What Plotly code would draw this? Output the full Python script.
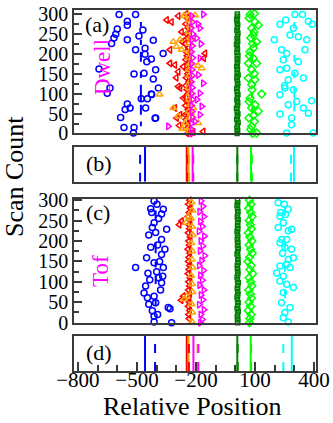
import plotly.graph_objects as go

# series order: blue, red, orange, magenta, dark green, light green, cyan
colors = ["#0000ff", "#ff0000", "#ffa500", "#ff00ff", "#008000", "#00ff00", "#00ffff"]
symbols = ["circle-open", "triangle-left-open", "triangle-up-open", "triangle-right-open",
           "square-open", "diamond-open", "circle-open"]

# ---- panel (a): Dwell ----
blue_a = [(-591, 299), (-507, 299), (-549, 282), (-549, 272), (-600, 262), (-608, 249), (-617, 240),
          (-629, 226), (-549, 235), (-507, 210), (-459, 214), (-459, 199), (-427, 187), (-405, 160),
          (-515, 149), (-417, 137), (-693, 162), (-637, 114), (-427, 99), (-447, 87), (-478, 87),
          (-549, 74), (-535, 64), (-456, 64), (-583, 40), (-566, 15), (-515, 15), (-518, 1),
          (-405, 39), (-651, 101), (-464, 151), (-417, 234), (-367, 201), (-450, 180), (-391, 114),
          (-425, 98), (-408, 38), (-470, 260), (-560, 60), (-490, 245)]
red_a = [(-349, 285), (-324, 280), (-290, 295), (-273, 255), (-332, 210), (-332, 176), (-307, 172),
         (-290, 155), (-264, 168), (-154, 201), (-160, 189), (-290, 118), (-281, 114), (-264, 89),
         (-307, 64), (-281, 47), (-298, 39), (-256, 47), (-239, 22), (-214, 4), (-163, 5),
         (-300, 140), (-270, 230), (-285, 20),
         (-250, 300), (-245, 290), (-252, 275), (-240, 265), (-248, 250), (-243, 240), (-255, 225),
         (-238, 215), (-250, 205), (-245, 195), (-252, 185), (-240, 175), (-247, 160), (-242, 150),
         (-250, 140), (-236, 130), (-252, 120), (-245, 110), (-240, 100), (-250, 90), (-244, 80),
         (-253, 70), (-240, 60), (-246, 50), (-250, 35), (-242, 25), (-248, 12), (-244, 0)]
orange_a = [(-281, 235), (-315, 230), (-273, 210), (-300, 218), (-171, 164), (-190, 170), (-315, 64),
            (-290, 43), (-256, 26), (-188, 26), (-214, 64), (-239, 297), (-205, 297), (-260, 295),
            (-385, 98), (-270, 12), (-225, 50),
            (-235, 285), (-232, 270), (-238, 255), (-230, 240), (-236, 225), (-233, 205), (-237, 190),
            (-231, 175), (-236, 160), (-234, 145), (-230, 130), (-238, 115), (-233, 100), (-236, 85),
            (-231, 72), (-237, 55), (-234, 40), (-232, 15), (-236, 5)]
magenta_a = [(-163, 299), (-180, 264), (-197, 239), (-180, 189), (-188, 147), (-163, 126), (-180, 101),
             (-171, 68), (-180, 47), (-205, 30), (-341, 18), (-175, 225), (-190, 275), (-195, 85),
             (-222, 295), (-218, 280), (-225, 265), (-216, 250), (-221, 235), (-219, 220), (-224, 205),
             (-217, 190), (-222, 175), (-220, 160), (-218, 145), (-225, 130), (-219, 115), (-221, 100),
             (-217, 85), (-223, 70), (-220, 55), (-218, 40), (-224, 25), (-221, 10), (-219, 0)]
dkgreen_a = [(9, 0), (12, 7), (8, 14), (11, 21), (14, 28), (7, 35), (10, 42), (13, 49), (9, 56), (6, 63),
             (11, 70), (12, 77), (8, 84), (10, 91), (13, 98), (9, 105), (7, 112), (11, 119), (12, 126),
             (10, 133), (8, 140), (14, 147), (9, 154), (11, 161), (7, 168), (10, 175), (12, 182),
             (9, 189), (13, 196), (8, 203), (11, 210), (10, 217), (6, 224), (12, 231), (9, 238),
             (11, 245), (13, 252), (8, 259), (10, 266), (12, 273), (9, 280), (7, 287), (11, 294), (10, 300)]
lgreen_a = [(75, 299), (97, 301), (100, 280), (83, 264), (91, 247), (108, 230), (75, 205), (91, 189),
            (66, 176), (108, 176), (83, 160), (66, 139), (100, 135), (83, 122), (134, 99), (75, 89),
            (100, 72), (83, 64), (117, 56), (69, 39), (97, 30), (83, 18), (108, 1), (91, 214), (117, 272),
            (70, 290), (95, 255), (78, 240), (88, 225), (72, 195), (96, 150), (85, 110), (70, 80),
            (92, 45), (78, 10), (88, 0)]
cyan_a = [(303, 299), (341, 299), (256, 285), (227, 274), (295, 264), (371, 282), (391, 274), (198, 235),
          (278, 247), (320, 243), (363, 235), (235, 210), (261, 201), (354, 210), (244, 185), (227, 160),
          (261, 164), (303, 151), (346, 139), (269, 135), (252, 114), (295, 110), (227, 97), (269, 72),
          (312, 80), (346, 64), (227, 49), (286, 39), (371, 51), (286, 22), (261, 1), (396, 1), (388, 82),
          (250, 120), (320, 180)]

# short vertical bars (x position, y spans)
blue_a_bar = (-480, [(268, 280), (222, 235), (180, 205), (139, 155), (80, 122), (47, 72), (18, 30)])
lgreen_a_bar = (85, [(245, 262), (176, 197), (89, 105), (50, 66)])
cyan_a_bar = (300, [(264, 280), (180, 197), (139, 155), (89, 114), (55, 80)])

# ---- panel (c): Tof ----
blue_c = [(-413, 298), (-430, 279), (-413, 245), (-422, 233), (-405, 221), (-451, 159), (-507, 135),
          (-444, 121), (-413, 147), (-456, 90), (-464, 73), (-447, 61), (-413, 65), (-405, 49),
          (-422, 29), (-413, 16), (-413, 2), (-366, 278), (-375, 266), (-349, 229), (-375, 204),
          (-358, 180), (-375, 167), (-366, 135), (-369, 114), (-375, 98), (-341, 37), (-324, 0),
          (-398, 290), (-390, 255), (-440, 215), (-395, 190), (-430, 185), (-385, 150), (-400, 125),
          (-390, 110), (-435, 105), (-380, 80), (-440, 45), (-395, 20), (-332, 34), (-425, 270)]
red_c = [(-232, 300), (-238, 290), (-228, 280), (-273, 249), (-235, 270), (-240, 260), (-230, 250),
         (-236, 240), (-285, 240), (-233, 230), (-239, 220), (-229, 210), (-237, 200), (-234, 190),
         (-241, 180), (-231, 170), (-236, 160), (-238, 150), (-232, 140), (-235, 130), (-240, 120),
         (-230, 110), (-237, 100), (-264, 65), (-275, 55), (-233, 90), (-238, 80), (-231, 70),
         (-236, 60), (-234, 50), (-239, 40), (-232, 30), (-237, 20), (-235, 10)]
orange_c = [(-239, 261), (-247, 65), (-260, 58), (-250, 245), (-222, 295), (-218, 275), (-225, 255),
            (-220, 235), (-216, 215), (-223, 195), (-219, 175), (-221, 155), (-217, 135), (-224, 115),
            (-220, 95), (-218, 75), (-222, 45), (-219, 25), (-221, 3)]
magenta_c = [(-175, 298), (-165, 285), (-182, 272), (-160, 260), (-178, 248), (-168, 236), (-185, 224),
             (-158, 212), (-176, 200), (-166, 188), (-180, 176), (-156, 164), (-172, 152), (-184, 140),
             (-162, 128), (-178, 116), (-168, 104), (-182, 92), (-160, 80), (-175, 68), (-165, 56),
             (-184, 44), (-160, 32), (-176, 20), (-168, 8), (-178, 0)]
dkgreen_c = [(11, 0), (13, 7), (10, 14), (12, 21), (15, 28), (9, 35), (12, 42), (14, 49), (11, 56), (9, 63),
             (13, 70), (12, 77), (10, 84), (12, 91), (15, 98), (11, 105), (9, 112), (13, 119), (12, 126),
             (11, 133), (10, 140), (14, 147), (12, 154), (13, 161), (9, 168), (12, 175), (14, 182),
             (11, 189), (13, 196), (10, 203), (12, 210), (11, 217), (9, 224), (13, 231), (11, 238),
             (12, 245), (14, 252), (10, 259), (12, 266), (13, 273), (11, 280), (9, 287), (12, 294), (11, 300)]
lgreen_c = [(72, 300), (80, 290), (68, 280), (78, 270), (85, 260), (70, 250), (76, 240), (82, 230),
            (66, 220), (74, 210), (84, 200), (70, 190), (78, 180), (86, 170), (72, 160), (64, 150),
            (80, 140), (74, 130), (88, 120), (70, 110), (78, 100), (84, 90), (68, 80), (76, 70),
            (82, 60), (70, 50), (78, 40), (66, 30), (80, 20), (74, 10), (72, 0)]
cyan_c = [(218, 294), (249, 290), (269, 278), (227, 261), (218, 233), (244, 245), (269, 225), (286, 229),
          (235, 204), (261, 204), (227, 196), (252, 184), (286, 180), (269, 155), (295, 159), (227, 139),
          (261, 143), (278, 135), (210, 122), (244, 114), (227, 102), (261, 94), (295, 86), (244, 74),
          (235, 49), (278, 37), (252, 25), (244, 12), (269, 2), (230, 270), (255, 265), (240, 170)]

blue_c_bar = (-405, [(255, 275), (170, 195), (135, 150), (95, 115), (40, 60)])
cyan_c_bar = (252, [(262, 280), (180, 200), (125, 140), (60, 80)])

# ---- panels (b) and (d): vertical reference lines ----
b_solid = [-459, -247, -238, -217, 10, 80, 298]
b_dashed = [-484, -244, -235, -214, 10, 84, 283]
d_solid = [-459, -247, -238, -213, 10, 78, 287]
d_dashed = [-408, -236, -192, -188, 12, 80, 244]

fig = go.Figure()


def add_points(pts, i, xa, ya):
    fig.add_trace(go.Scatter(
        x=[p[0] for p in pts], y=[p[1] for p in pts], mode="markers",
        marker=dict(symbol=symbols[i], color=colors[i], size=6 if i != 4 else 4,
                    line=dict(width=1.5, color=colors[i])),
        xaxis=xa, yaxis=ya, cliponaxis=False, showlegend=False))


def add_bars(bar, i, xa, ya):
    xs, ys = [], []
    for y0, y1 in bar[1]:
        xs += [bar[0], bar[0], None]
        ys += [y0, y1, None]
    fig.add_trace(go.Scatter(x=xs, y=ys, mode="lines", line=dict(color=colors[i], width=2),
                             xaxis=xa, yaxis=ya, showlegend=False))


def add_vlines(vals, dash, xa, ya):
    for i, v in enumerate(vals):
        fig.add_trace(go.Scatter(x=[v, v], y=[0, 1], mode="lines",
                                 line=dict(color=colors[i], width=2, dash=dash),
                                 xaxis=xa, yaxis=ya, showlegend=False))


for i, pts in enumerate([blue_a, red_a, orange_a, magenta_a, dkgreen_a, lgreen_a, cyan_a]):
    add_points(pts, i, "x", "y")
add_bars(blue_a_bar, 0, "x", "y")
add_bars(lgreen_a_bar, 5, "x", "y")
add_bars(cyan_a_bar, 6, "x", "y")

add_vlines(b_solid, "solid", "x2", "y2")
add_vlines(b_dashed, "dash", "x2", "y2")

for i, pts in enumerate([blue_c, red_c, orange_c, magenta_c, dkgreen_c, lgreen_c, cyan_c]):
    add_points(pts, i, "x3", "y3")
add_bars(blue_c_bar, 0, "x3", "y3")
add_bars(cyan_c_bar, 6, "x3", "y3")

add_vlines(d_solid, "solid", "x4", "y4")
add_vlines(d_dashed, "dash", "x4", "y4")

font = "Liberation Serif, Times New Roman, serif"
frame = dict(showline=True, mirror=True, linecolor="#3a3a3a", linewidth=1.5,
             showgrid=False, zeroline=False, automargin=False)
xr = [-820, 410]
ydom = {"a": [0.658, 1.0], "b": [0.524, 0.6205], "c": [0.1338, 0.4765], "d": [0.0, 0.097]}

count_axis = dict(dtick=50, tick0=0, ticks="inside", ticklen=8, tickwidth=1.5, tickcolor="#3a3a3a",
                  minor=dict(dtick=25, ticks="inside", ticklen=5, tickwidth=1.5, tickcolor="#3a3a3a"),
                  ticklabeloverflow="allow",
                  tickfont=dict(size=20, color="black", family=font), **frame)

fig.update_layout(
    width=333, height=423,
    margin=dict(l=74, r=17, t=10, b=52),
    paper_bgcolor="white", plot_bgcolor="white",
    font=dict(family=font, color="black"),
    xaxis=dict(range=xr, domain=[0, 1], anchor="y", showticklabels=False, **frame),
    yaxis=dict(range=[0, 310], domain=ydom["a"], anchor="x", **count_axis),
    xaxis2=dict(range=xr, domain=[0, 1], anchor="y2", showticklabels=False, **frame),
    yaxis2=dict(range=[0, 1], domain=ydom["b"], anchor="x2", showticklabels=False, **frame),
    xaxis3=dict(range=xr, domain=[0, 1], anchor="y3", showticklabels=False, **frame),
    yaxis3=dict(range=[0, 303], domain=ydom["c"], anchor="x3", **count_axis),
    xaxis4=dict(range=xr, domain=[0, 1], anchor="y4", tick0=-800, dtick=300, ticks="inside",
                ticklen=9, tickwidth=1.5, tickcolor="#3a3a3a", ticklabelstandoff=-11,
                ticklabeloverflow="allow",
                minor=dict(dtick=100, ticks="inside", ticklen=6, tickwidth=1.5, tickcolor="#3a3a3a"),
                tickfont=dict(size=21, color="black", family=font), **frame),
    yaxis4=dict(range=[0, 1], domain=ydom["d"], anchor="x4", showticklabels=False, **frame),
)


def note(text, x, y, size, color="black", angle=0):
    fig.add_annotation(text=text, x=x, y=y, xref="paper", yref="paper", showarrow=False,
                       xanchor="center", yanchor="middle", textangle=angle,
                       font=dict(size=size, family=font, color=color))


labels = [("(a)", 0.095, 0.961), ("(b)", 0.103, 0.576), ("(c)", 0.099, 0.440), ("(d)", 0.103, 0.050)]
for t, x, y in labels:
    note(t, x, y, 22)
note("Dwell", 0.116, 0.842, 23, "#ff00ff", -90)
note("Tof", 0.107, 0.277, 23, "#ff00ff", -90)
note("Scan Count", -0.248, 0.540, 26, angle=-90)
note("Relative Position", 0.488, -0.097, 26)

# drop the default page margin so the figure sits at the window's corner
fig.write_html("out.html", config={"displayModeBar": False},
               post_script="document.body.style.margin='0';")
